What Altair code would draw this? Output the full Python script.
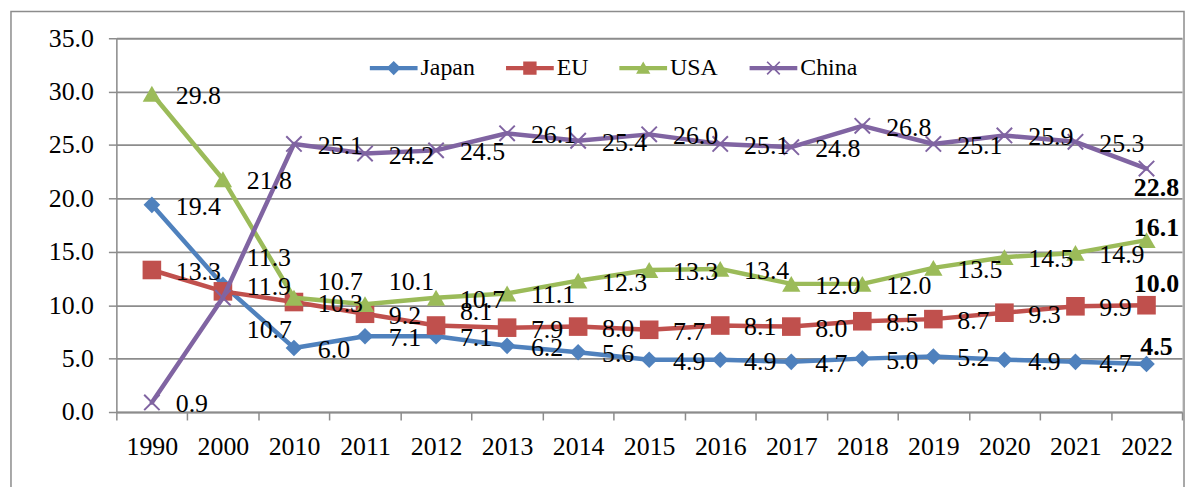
import altair as alt
import pandas as pd

years = ["1990", "2000", "2010", "2011", "2012", "2013", "2014", "2015",
         "2016", "2017", "2018", "2019", "2020", "2021", "2022"]
series = ["Japan", "EU", "USA", "China"]
japan = [19.4, 11.9, 6.0, 7.1, 7.1, 6.2, 5.6, 4.9, 4.9, 4.7, 5.0, 5.2, 4.9, 4.7, 4.5]
eu = [13.3, 11.3, 10.3, 9.2, 8.1, 7.9, 8.0, 7.7, 8.1, 8.0, 8.5, 8.7, 9.3, 9.9, 10.0]
usa = [29.8, 21.8, 10.7, 10.1, 10.7, 11.1, 12.3, 13.3, 13.4, 12.0, 12.0, 13.5, 14.5, 14.9, 16.1]
china = [0.9, 10.7, 25.1, 24.2, 24.5, 26.1, 25.4, 26.0, 25.1, 24.8, 26.8, 25.1, 25.9, 25.3, 22.8]
y_ticks = [0, 5, 10, 15, 20, 25, 30, 35]

colors = ["#4F81BD", "#C0504D", "#9BBB59", "#8064A2"]
FONT = "'Times New Roman', 'Liberation Serif', 'DejaVu Serif', serif"
GRID = "#8c8c8c"
FS = 26

values = {"Japan": japan, "EU": eu, "USA": usa, "China": china}
rows = []
for s in series:
    for yr, v in zip(years, values[s]):
        rows.append({"series": s, "year": yr, "value": v})
df = pd.DataFrame(rows)

# label nudges (pixel dy) for a few labels, as in the reference
label_nudge = {
    ("EU", "2000"): -33, ("China", "2000"): 32,
    ("USA", "2010"): -16, ("USA", "2011"): -22, ("EU", "2012"): -14,
}
final_nudge = {"China": 20, "USA": -12, "EU": -21, "Japan": -17}

color_scale = alt.Scale(domain=series, range=colors)

x_enc = alt.X("year:O", sort=years,
              scale=alt.Scale(type="band", domain=years, paddingInner=0, paddingOuter=0),
              bandPosition=0.5,
              axis=alt.Axis(title=None, labelAngle=0, tickBand="extent", ticks=True,
                            tickSize=8, tickColor=GRID, tickWidth=1.5,
                            domainColor=GRID, domainWidth=1.5,
                            labelFont=FONT, labelFontSize=FS, labelColor="black",
                            labelPadding=14, grid=False))
y_enc = alt.Y("value:Q",
              scale=alt.Scale(domain=[0, 35], nice=False, zero=True),
              axis=alt.Axis(title=None, values=y_ticks, format=".1f", grid=True,
                            gridColor=GRID, gridWidth=1.8, tickSize=8, tickColor=GRID,
                            tickWidth=1.5, domainColor=GRID, domainWidth=1.5,
                            labelFont=FONT, labelFontSize=FS, labelColor="black",
                            labelPadding=15))

base = alt.Chart(df)

frame = alt.Chart(alt.Data(values=[{}])).mark_rect(
    fillOpacity=0, stroke=GRID, strokeWidth=1.5
).encode(x=alt.value(-106), x2=alt.value(1074), y=alt.value(-27), y2=alt.value(470))

markers = {
    "Japan": dict(shape="diamond", filled=True, size=280),
    "EU": dict(shape="square", filled=True, size=350),
    "USA": dict(shape="triangle-up", filled=True, size=340),
    "China": dict(shape="M-1,-1L1,1M-1,1L1,-1", filled=False, size=240, strokeWidth=2),
}

# legend-only layer (no visible marks) — placed first so its legend settings win
legend_paths = [
    "M-1,-0.09H1V0.09H-1Z M0,-0.3L0.3,0L0,0.3L-0.3,0Z",
    "M-1,-0.09H1V0.09H-1Z M-0.28,-0.28H0.28V0.28H-0.28Z",
    "M-1,-0.09H1V0.09H-1Z M0,-0.28L0.3,0.24H-0.3Z",
    "M-1,-0.09H1V0.09H-1Z M-0.29,-0.24L-0.24,-0.29L0.29,0.24L0.24,0.29Z M0.24,-0.29L0.29,-0.24L-0.24,0.29L-0.29,0.24Z",
]
leg = dict(orient="none", legendX=255, legendY=6, direction="horizontal", title=None,
           padding=0, symbolSize=2304, symbolStrokeWidth=0, symbolOpacity=1,
           labelFont=FONT, labelFontSize=24, labelColor="black", labelOffset=3,
           columnPadding=31)
legend_layer = base.transform_filter("false").mark_point(filled=True, opacity=1).encode(
    x=x_enc, y=y_enc,
    color=alt.Color("series:N", scale=color_scale, legend=alt.Legend(**leg)),
    shape=alt.Shape("series:N", scale=alt.Scale(domain=series, range=legend_paths),
                    legend=alt.Legend(**leg)),
)

layers = [frame, legend_layer]
for s in series:
    sub = base.transform_filter(alt.datum.series == s)
    layers.append(sub.mark_line(strokeWidth=4.5, strokeJoin="round", strokeCap="round").encode(
        x=x_enc, y=y_enc, color=alt.Color("series:N", scale=color_scale, legend=None)))
    layers.append(sub.mark_point(opacity=1, **markers[s]).encode(
        x=x_enc, y=y_enc, color=alt.Color("series:N", scale=color_scale, legend=None)))

# data labels
nudged_keys = list(label_nudge.keys())
not_nudged = " && ".join(
    [f"!(datum.series == '{s}' && datum.year == '{y}')" for s, y in nudged_keys]
    + ["datum.year != '2022'"])
text_enc = dict(x=x_enc, y=y_enc, text=alt.Text("value:Q", format=".1f"))
layers.append(base.transform_filter(not_nudged).mark_text(
    align="left", baseline="middle", dx=24, dy=2, font=FONT, fontSize=FS, color="black"
).encode(**text_enc))
for (s, y), dy in label_nudge.items():
    layers.append(base.transform_filter(
        f"datum.series == '{s}' && datum.year == '{y}'").mark_text(
        align="left", baseline="middle", dx=24, dy=dy, font=FONT, fontSize=FS, color="black"
    ).encode(**text_enc))
for s, dy in final_nudge.items():
    layers.append(base.transform_filter(
        f"datum.series == '{s}' && datum.year == '2022'").mark_text(
        align="center", baseline="middle", dx=10, dy=dy, font=FONT, fontSize=FS,
        fontWeight="bold", color="black"
    ).encode(**text_enc))

chart = alt.layer(*layers).properties(
    width=1072, height=376,
    padding={"left": 109, "top": 29, "right": 3, "bottom": 74},
    autosize=alt.AutoSizeParams(type="none"),
).configure_view(stroke=None).configure(background="white")

chart.save("out.html", embed_options={"renderer": "svg", "actions": False})
